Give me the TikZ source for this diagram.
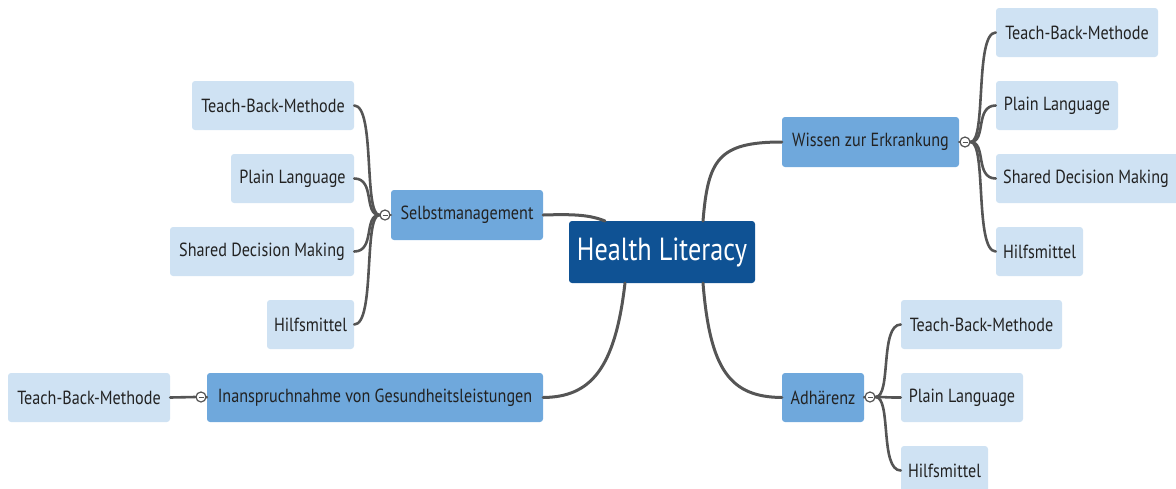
\documentclass[tikz,border=0pt]{standalone}
\usepackage{fontspec}
\setmainfont{PT Sans}[FakeStretch=0.85]
\newfontfamily\rootfont{PT Sans}[FakeStretch=0.82]
\definecolor{rootc}{HTML}{0F5294}
\definecolor{midc}{HTML}{6FA8DC}
\definecolor{leafc}{HTML}{CFE2F3}
\definecolor{linec}{HTML}{555555}
\definecolor{txtc}{HTML}{222222}
\tikzset{
  box/.style={rounded corners=3pt, inner sep=0pt, font=\fontsize{19}{21}\selectfont, text=txtc},
  rootbox/.style={box, fill=rootc, text=white, font=\rootfont\fontsize{32}{34}\selectfont},
  midbox/.style={box, fill=midc},
  leafbox/.style={box, fill=leafc},
  conn/.style={draw=linec, line width=3pt, line cap=round},
  lconn/.style={draw=linec, line width=2.6pt, line cap=round},
  toggle/.style={circle, draw=linec, fill=white, line width=1.2pt, minimum size=10pt, inner sep=0pt,
     path picture={\draw[linec, line width=1pt] ([xshift=-2.5pt]path picture bounding box.center) -- ([xshift=2.5pt]path picture bounding box.center);}},
}
\newcommand{\bx}[6]{\node[#1, minimum width=#4-#2, minimum height=#5-#3] (#6) at ({(#2+#4)/2},{(#3+#5)/2})}
\begin{document}
\begin{tikzpicture}[x=1pt,y=-1pt]
\useasboundingbox (0,0) rectangle (1176,488);
\coordinate (rs) at (605,221);
\coordinate (rw) at (703,221);
\coordinate (ri) at (625,283);
\coordinate (ra) at (703,283);
% nodes
\bx{rootbox}{569}{221}{755}{283}{root} {Health Literacy};
\bx{midbox}{391}{190}{543}{240}{selbst} {Selbstmanagement};
\bx{midbox}{782}{117}{959}{167}{wissen} {Wissen zur Erkrankung};
\bx{midbox}{782}{373}{864}{422}{adh} {Adhärenz};
\bx{midbox}{207}{373}{543}{422}{inan} {Inanspruchnahme von Gesundheitsleistungen};
% left leaves
\bx{leafbox}{192}{81}{354}{130}{sA} {Teach-Back-Methode};
\bx{leafbox}{231}{154}{354}{203}{sB} {Plain Language};
\bx{leafbox}{170}{227}{354}{276}{sC} {Shared Decision Making};
\bx{leafbox}{267}{300}{354}{349}{sD} {Hilfsmittel};
\bx{leafbox}{8}{373}{170}{422}{iA} {Teach-Back-Methode};
% right leaves
\bx{leafbox}{996}{8}{1158}{57}{wA} {Teach-Back-Methode};
\bx{leafbox}{996}{81}{1118}{130}{wB} {Plain Language};
\bx{leafbox}{996}{154}{1181}{203}{wC} {\hspace*{-5pt}Shared Decision Making};
\bx{leafbox}{996}{227}{1083}{276}{wD} {Hilfsmittel};
\bx{leafbox}{901}{300}{1062}{349}{aA} {Teach-Back-Methode};
\bx{leafbox}{901}{373}{1023}{422}{aB} {Plain Language};
\bx{leafbox}{901}{446}{988}{495}{aC} {Hilfsmittel};
% main connectors
\path[conn] (selbst.east) .. controls (575,214) and (590,215) .. (rs);
\path[conn] (rw) .. controls (708,160) and (718,142) .. (wissen.west);
\path[conn] (ri) .. controls (615,370) and (590,397) .. (inan.east);
\path[conn] (ra) .. controls (710,370) and (730,397) .. (adh.west);
% toggles
\node[toggle] (tS) at (385,215) {};
\node[toggle] (tW) at (965,142) {};
\node[toggle] (tA) at (870,397) {};
\node[toggle] (tI) at (201,397) {};
% leaf connectors
\foreach \l in {sA,sB,sC,sD}{
  \path[lconn] (tS.west) .. controls ([xshift=-16pt]tS.west) and ([xshift=-4pt]tS.west |- \l.east) .. (\l.east);
}
\foreach \l in {wA,wB,wC,wD}{
  \path[lconn] (tW.east) .. controls ([xshift=16pt]tW.east) and ([xshift=4pt]tW.east |- \l.west) .. (\l.west);
}
\foreach \l in {aA,aB,aC}{
  \path[lconn] (tA.east) .. controls ([xshift=16pt]tA.east) and ([xshift=4pt]tA.east |- \l.west) .. (\l.west);
}
\path[lconn] (tI.west) -- (iA.east);
\path[lconn] (inan.west) -- (tI.east);
\path[lconn] (wissen.east) -- (tW.west);
\path[lconn] (adh.east) -- (tA.west);
\path[lconn] (selbst.west) -- (tS.east);
\end{tikzpicture}
\end{document}
